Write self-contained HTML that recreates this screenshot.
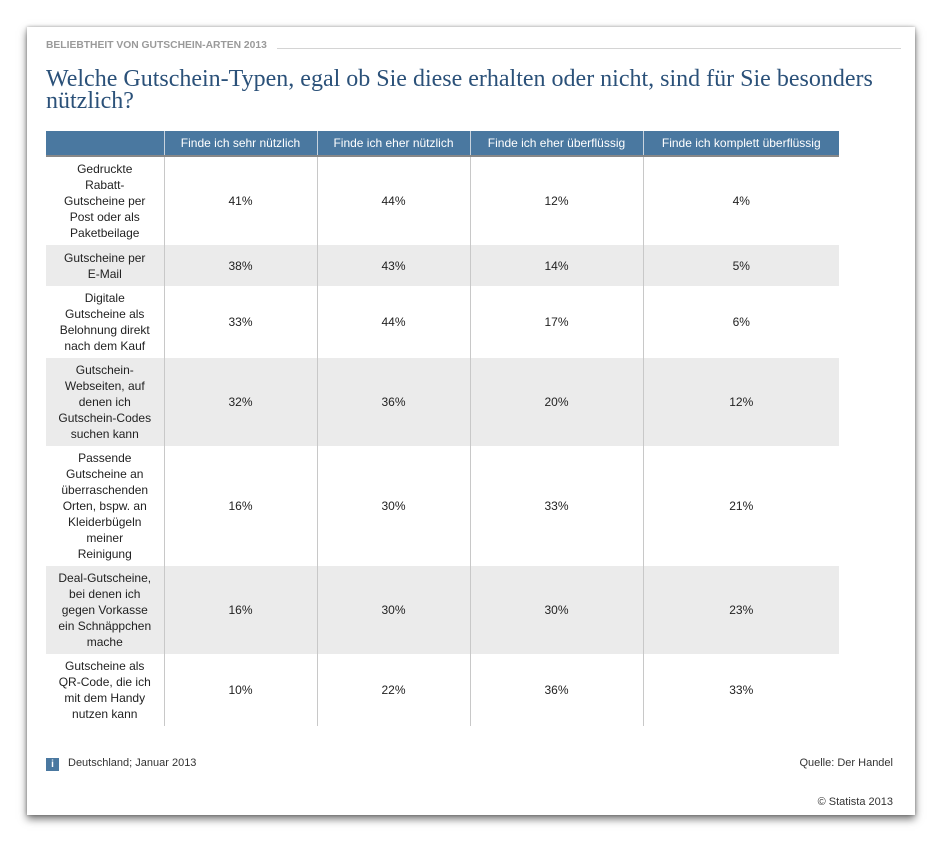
<!DOCTYPE html>
<html><head><meta charset="utf-8"><style>
body{margin:0;width:941px;height:842px;background:#fff;position:relative;font-family:"Liberation Sans",sans-serif;overflow:hidden}
#card{position:absolute;left:27px;top:27px;width:888px;height:788px;background:#fff;box-shadow:0 4px 8px rgba(0,0,0,.55),0 0 3px rgba(0,0,0,.3)}
#kicker{position:absolute;left:19px;top:13px;font-size:10.3px;font-weight:bold;color:#9a9a9a;background:#fff;padding-right:10px}
#kline{position:absolute;left:19px;right:14px;top:21px;border-top:1px solid #d4d4d4}
#title{position:absolute;left:19px;top:41px;width:860px;font-family:"Liberation Serif",serif;font-size:24px;line-height:22px;color:#2b5179}
table{position:absolute;left:19px;top:104px;border-collapse:collapse;font-size:12px;color:#222;table-layout:fixed}
th{background:#4a78a0;color:#fff;font-weight:normal;height:24px;padding:0;border-left:1px solid #c8d3de;border-bottom:2px solid #888}
th:first-child{border-left:none}
td{text-align:center;padding:0;line-height:16px;border-left:1px solid #c8c8c8}
td:first-child{border-left:none}
tr.g td{background:#ebebeb}
#info{position:absolute;left:19px;top:731px;width:13px;height:13px;background:#4a78a0;color:#fff;font-size:10px;text-align:center;line-height:13px;font-weight:bold}
.f{position:absolute;font-size:11px;color:#333}
</style></head><body>
<div id="card">
<div id="kline"></div>
<div id="kicker">BELIEBTHEIT VON GUTSCHEIN-ARTEN 2013</div>
<div id="title">Welche Gutschein-Typen, egal ob Sie diese erhalten oder nicht, sind für Sie besonders nützlich?</div>
<table>
<colgroup><col style="width:118px"><col style="width:153px"><col style="width:153px"><col style="width:173px"><col style="width:196px"></colgroup>
<tr><th></th><th>Finde ich sehr nützlich</th><th>Finde ich eher nützlich</th><th>Finde ich eher überflüssig</th><th>Finde ich komplett überflüssig</th></tr>
<tr style="height:89px"><td>Gedruckte<br>Rabatt-<br>Gutscheine per<br>Post oder als<br>Paketbeilage</td><td>41%</td><td>44%</td><td>12%</td><td>4%</td></tr>
<tr class="g" style="height:41px"><td>Gutscheine per<br>E-Mail</td><td>38%</td><td>43%</td><td>14%</td><td>5%</td></tr>
<tr style="height:72px"><td>Digitale<br>Gutscheine als<br>Belohnung direkt<br>nach dem Kauf</td><td>33%</td><td>44%</td><td>17%</td><td>6%</td></tr>
<tr class="g" style="height:88px"><td>Gutschein-<br>Webseiten, auf<br>denen ich<br>Gutschein-Codes<br>suchen kann</td><td>32%</td><td>36%</td><td>20%</td><td>12%</td></tr>
<tr style="height:120px"><td>Passende<br>Gutscheine an<br>überraschenden<br>Orten, bspw. an<br>Kleiderbügeln<br>meiner<br>Reinigung</td><td>16%</td><td>30%</td><td>33%</td><td>21%</td></tr>
<tr class="g" style="height:88px"><td>Deal-Gutscheine,<br>bei denen ich<br>gegen Vorkasse<br>ein Schnäppchen<br>mache</td><td>16%</td><td>30%</td><td>30%</td><td>23%</td></tr>
<tr style="height:72px"><td>Gutscheine als<br>QR-Code, die ich<br>mit dem Handy<br>nutzen kann</td><td>10%</td><td>22%</td><td>36%</td><td>33%</td></tr>
</table>
<div id="info">i</div>
<div class="f" style="left:41px;top:730px">Deutschland; Januar 2013</div>
<div class="f" style="right:22px;top:730px">Quelle: Der Handel</div>
<div class="f" style="right:22px;top:769px">© Statista 2013</div>
</div>
</body></html>
